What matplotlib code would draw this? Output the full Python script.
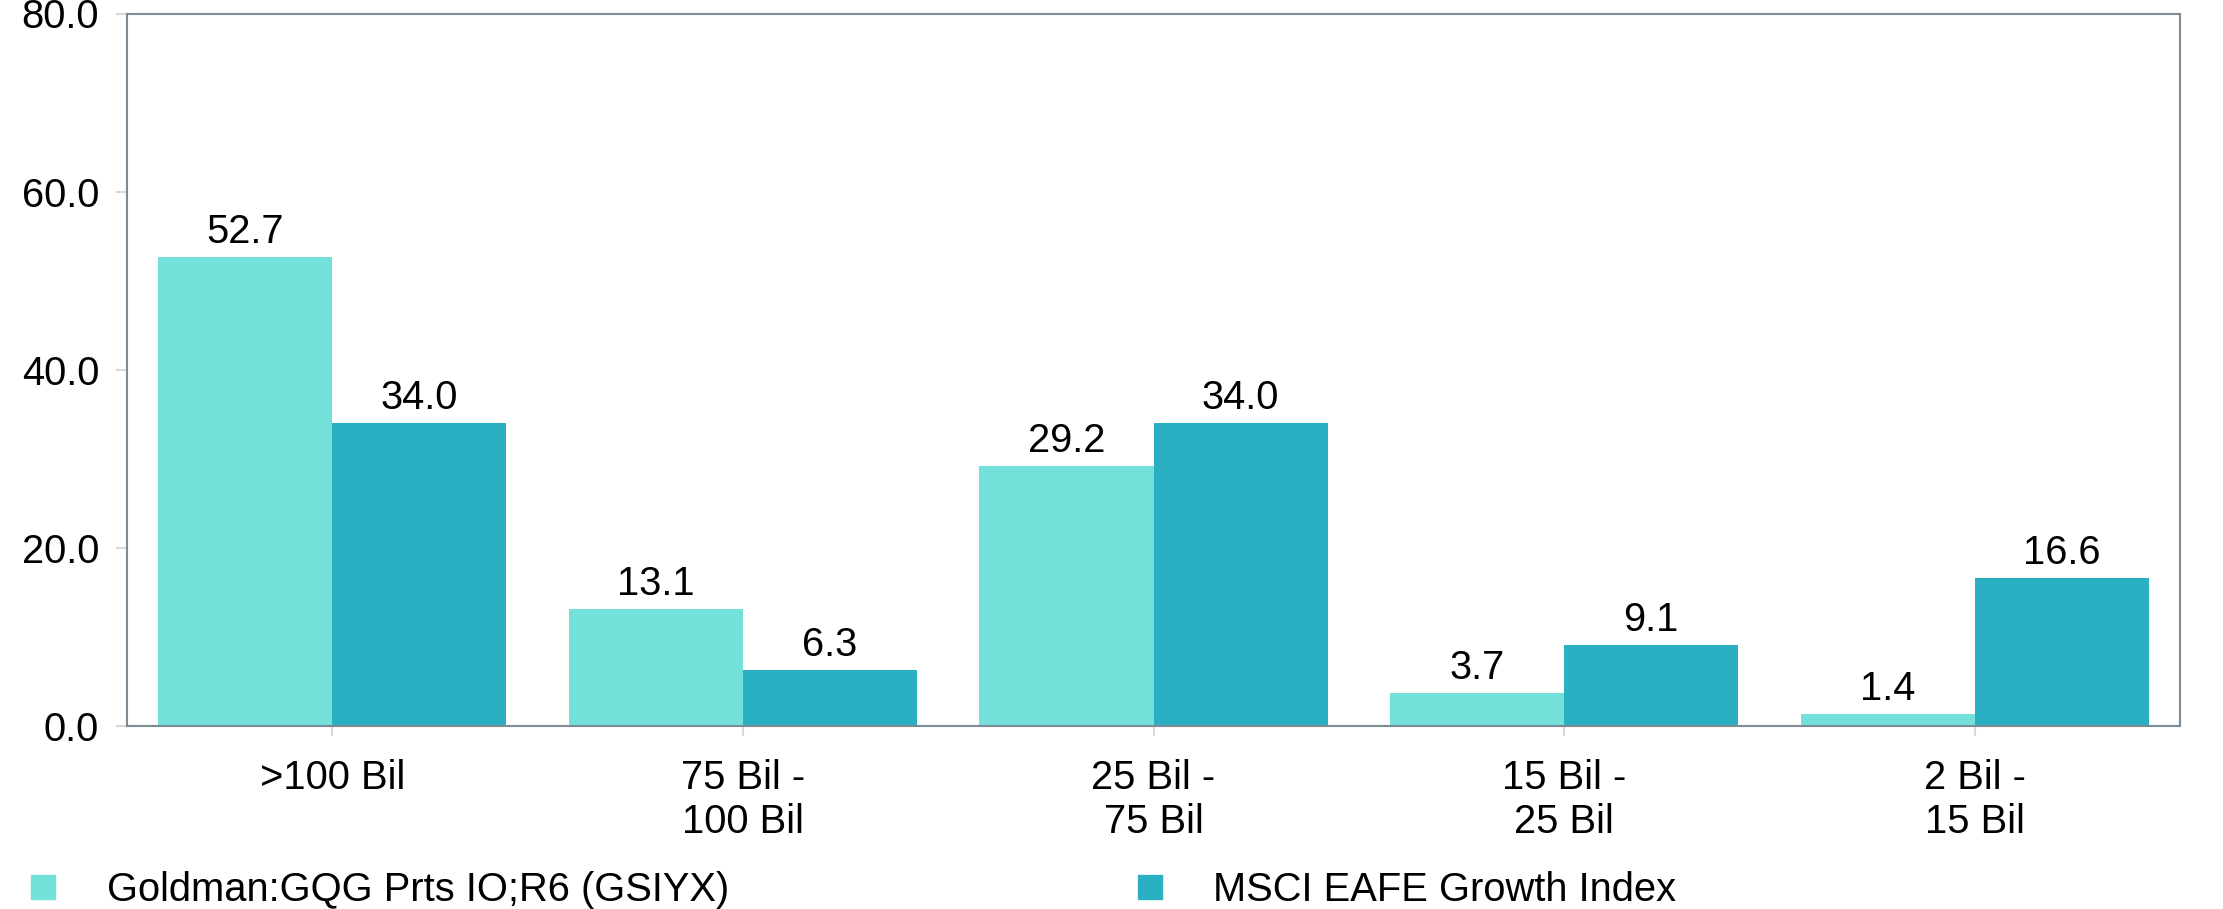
import matplotlib
matplotlib.use("Agg")
import matplotlib.pyplot as plt
from matplotlib.patches import Rectangle
import numpy as np

categories = [">100 Bil", "75 Bil -\n100 Bil", "25 Bil -\n75 Bil", "15 Bil -\n25 Bil", "2 Bil -\n15 Bil"]
series_names = ["Goldman:GQG Prts IO;R6 (GSIYX)", "MSCI EAFE Growth Index"]
fund_values = [52.7, 13.1, 29.2, 3.7, 1.4]
index_values = [34.0, 6.3, 34.0, 9.1, 16.6]
yticks = [0, 20, 40, 60, 80]

colors = ["#73E1D9", "#2AAFC3"]
FS = 28.7

plt.rcParams['font.family'] = ['Liberation Sans', 'DejaVu Sans']

fig = plt.figure(figsize=(22.23, 9.09), dpi=100)
ax = fig.add_axes([127/2223, 1 - 726/909, (2180-127)/2223, (726-13.5)/909])

x = np.arange(len(categories))
w = 0.424
b1 = ax.bar(x - w/2, fund_values, w, color=colors[0], zorder=2)
b2 = ax.bar(x + w/2, index_values, w, color=colors[1], zorder=2)

for bars, vals in ((b1, fund_values), (b2, index_values)):
    for rect, v in zip(bars, vals):
        ax.annotate(f"{v:.1f}", (rect.get_x() + rect.get_width()/2, v),
                    xytext=(0, 6), textcoords="offset pixels",
                    ha="center", va="bottom", fontsize=FS)

ax.set_xlim(-0.5, len(categories) - 0.5)
ax.set_ylim(0, 80)
ax.set_yticks(yticks)
ax.set_yticklabels([f"{t:.1f}" for t in yticks], fontsize=FS)
ax.set_xticks(x)
ax.set_xticklabels(categories, fontsize=FS, linespacing=1.2)
ax.tick_params(axis="y", length=8, width=1.5, color="#d9d9d9", pad=12)
ax.tick_params(axis="x", length=7, width=1.5, color="#d9d9d9", pad=17)
for s in ax.spines.values():
    s.set_color("#7d8b96")
    s.set_linewidth(1.5)

# legend
legend_items = [(31, 107), (1138, 1213)]
for (mx, tx), name, c in zip(legend_items, series_names, colors):
    fig.patches.append(Rectangle((mx/2223, 1 - 899/909), 24/2223, 24/909,
                                 transform=fig.transFigure, color=c))
    fig.text(tx/2223, 1 - 890/909, name, fontsize=FS, va="center", ha="left")

fig.savefig("out.png", dpi=100)
